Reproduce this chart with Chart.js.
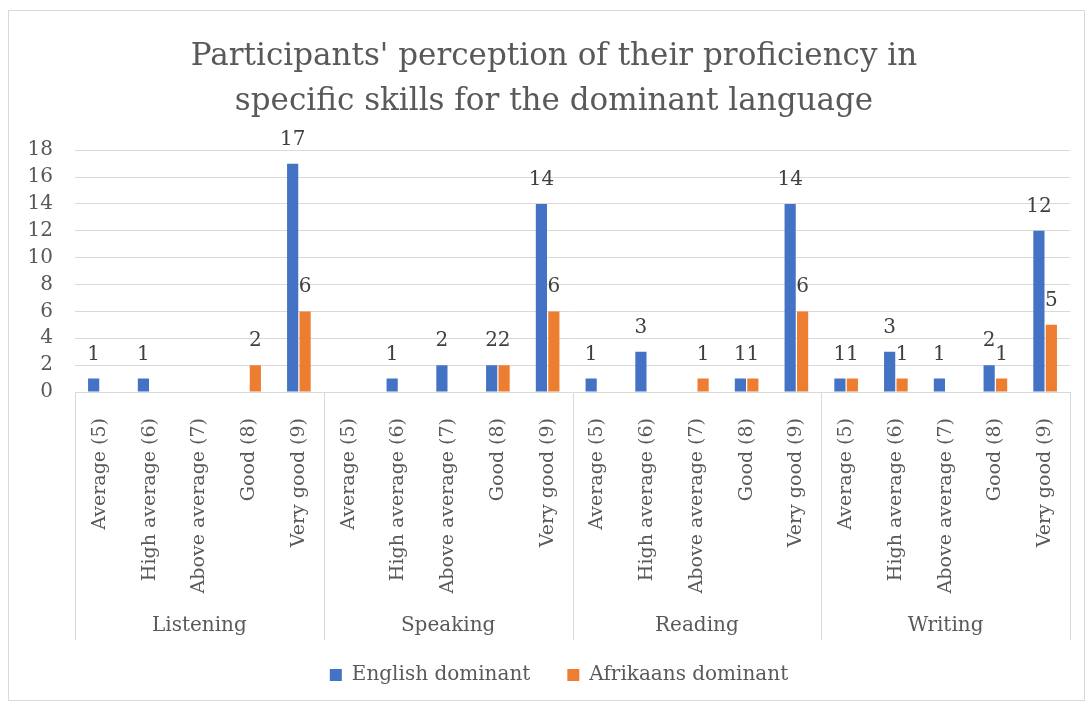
<!DOCTYPE html>
<html>
<head>
  <meta charset="utf-8">
  <title>Proficiency perception</title>
  <script src="https://cdn.jsdelivr.net/npm/chart.js@4.4.1/dist/chart.umd.min.js"></script>
  <style>
    body { margin: 0; background: #fff; }
    canvas { display: block; }
  </style>
</head>
<body>
<canvas id="chartCanvas" width="1089" height="707"></canvas>
<script>
  // data
  const levels = ['Average (5)', 'High average (6)', 'Above average (7)', 'Good (8)', 'Very good (9)'];
  const skills = ['Listening', 'Speaking', 'Reading', 'Writing'];
  const englishDominant   = [1, 1, 0, 0, 17,  0, 1, 2, 2, 14,  1, 3, 0, 1, 14,  1, 3, 1, 2, 12];
  const afrikaansDominant = [0, 0, 0, 2, 6,   0, 0, 0, 2, 6,   0, 0, 1, 1, 6,   1, 1, 0, 1, 5];
  const yTicks = [0, 2, 4, 6, 8, 10, 12, 14, 16, 18];

  const labels = skills.flatMap(() => levels);
  const FONT = "'DejaVu Serif', 'Liberation Serif', serif";
  const TEXT = '#595959';
  const LINE = '#d9d9d9';

  // frame round the whole chart
  const framePlugin = {
    id: 'frame',
    beforeDraw(chart) {
      const ctx = chart.ctx;
      ctx.save();
      ctx.fillStyle = '#fff';
      ctx.fillRect(0, 0, chart.width, chart.height);
      ctx.strokeStyle = LINE;
      ctx.lineWidth = 1;
      ctx.strokeRect(8.5, 10.5, 1076, 690);
      ctx.restore();
    }
  };

  // title and legend sit a bit right of the canvas centre in the original
  const nudge = {
    id: 'nudge',
    afterLayout(chart) {
      if (chart.titleBlock) { chart.titleBlock.left += 15; chart.titleBlock.right += 15; }
      if (chart.legend) { chart.legend.left += 20; chart.legend.right += 20; }
    }
  };

  // value labels over the bars
  const valueLabels = {
    id: 'valueLabels',
    afterDatasetsDraw(chart) {
      const ctx = chart.ctx;
      ctx.save();
      ctx.font = '20px ' + FONT;
      ctx.fillStyle = '#404040';
      ctx.textAlign = 'center';
      ctx.textBaseline = 'alphabetic';
      chart.data.datasets.forEach((ds, i) => {
        chart.getDatasetMeta(i).data.forEach((bar, j) => {
          if (ds.data[j] > 0) ctx.fillText(ds.data[j], bar.x, bar.y - 19);
        });
      });
      ctx.restore();
    }
  };

  // second level of the category axis (skills) with separators
  const groupAxis = {
    id: 'groupAxis',
    afterDraw(chart) {
      const ctx = chart.ctx;
      const x = chart.scales.x;
      const area = chart.chartArea;
      const per = levels.length;
      const bounds = [area.left];
      for (let g = 1; g < skills.length; g++) {
        bounds.push((x.getPixelForValue(g * per - 1) + x.getPixelForValue(g * per)) / 2);
      }
      bounds.push(area.right);
      ctx.save();
      ctx.strokeStyle = LINE;
      ctx.lineWidth = 1;
      bounds.forEach(b => {
        const px = Math.round(b) + 0.5;
        ctx.beginPath();
        ctx.moveTo(px, area.bottom);
        ctx.lineTo(px, 640);
        ctx.stroke();
      });
      ctx.font = '20px ' + FONT;
      ctx.fillStyle = TEXT;
      ctx.textAlign = 'center';
      ctx.textBaseline = 'alphabetic';
      skills.forEach((s, g) => {
        ctx.fillText(s, (bounds[g] + bounds[g + 1]) / 2, 631);
      });
      ctx.restore();
    }
  };

  new Chart(document.getElementById('chartCanvas'), {
    type: 'bar',
    data: {
      labels: labels,
      datasets: [
        { label: 'English dominant', data: englishDominant, backgroundColor: '#4472C4' },
        { label: 'Afrikaans dominant', data: afrikaansDominant, backgroundColor: '#ED7D31' }
      ]
    },
    options: {
      responsive: false,
      animation: false,
      categoryPercentage: 0.5,
      barPercentage: 0.9,
      layout: { padding: { left: 8, right: 19, top: 0, bottom: 12 } },
      plugins: {
        title: {
          display: true,
          text: ["Participants' perception of their proficiency in", 'specific skills for the dominant language'],
          color: TEXT,
          font: { family: FONT, size: 31, weight: 'normal', lineHeight: 1.44 },
          padding: { top: 35, bottom: 26 }
        },
        legend: {
          position: 'bottom',
          labels: {
            boxWidth: 12,
            boxHeight: 12,
            padding: 37,
            color: TEXT,
            font: { family: FONT, size: 20 }
          }
        },
        tooltip: { enabled: false }
      },
      scales: {
        x: {
          grid: { display: false },
          border: { display: false },
          ticks: {
            minRotation: 90,
            maxRotation: 90,
            autoSkip: false,
            padding: 18,
            color: TEXT,
            font: { family: FONT, size: 19 }
          },
          afterFit(scale) { scale.height = 236; }
        },
        y: {
          min: 0,
          max: 18,
          afterBuildTicks(scale) { scale.ticks = yTicks.map(v => ({ value: v })); },
          grid: { color: LINE, drawTicks: false },
          border: { display: false },
          ticks: {
            autoSkip: false,
            padding: 22,
            color: TEXT,
            font: { family: FONT, size: 20 }
          },
          afterFit(scale) { scale.width = 67; }
        }
      }
    },
    plugins: [framePlugin, nudge, valueLabels, groupAxis]
  });
</script>
</body>
</html>
